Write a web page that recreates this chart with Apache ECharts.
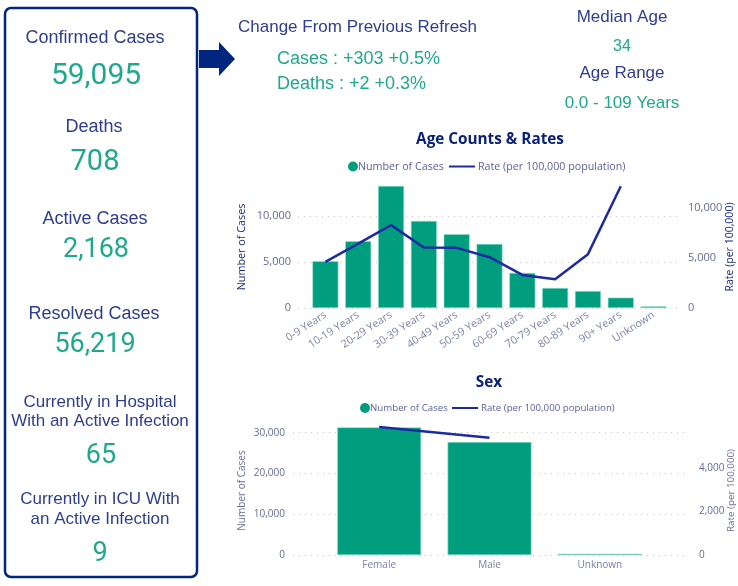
<!DOCTYPE html>
<html>
<head>
<meta charset="utf-8">
<style>html,body{margin:0;padding:0;background:#fff}</style>
<script src="https://cdn.jsdelivr.net/npm/echarts@6/dist/echarts.min.js"></script>
</head>
<body>
<div id="main" style="width:738px;height:586px"></div>
<script type="text/javascript">
var ageCategories = ['0-9 Years','10-19 Years','20-29 Years','30-39 Years','40-49 Years','50-59 Years','60-69 Years','70-79 Years','80-89 Years','90+ Years','Unknown'];
var ageCases = [5090,7270,13300,9490,8040,6980,3820,2180,1850,1130,180];
var ageRates = [4600,6430,8270,6030,6000,5070,3300,2870,5370,12150,null];
var sexCategories = ['Female','Male','Unknown'];
var sexCases = [31300,27700,300];
var sexRates = [5860,5370,null];

var casesName = 'Number of Cases';
var rateName = 'Rate (per 100,000 population)';

var navy = '#002680';
var labelBlue = '#2f3d8f';
var green = '#1fa98c';
var barGreen = '#009e7f';
var lineBlue = '#1e2ba0';
var tickGrey = '#646c92';
var catGrey = '#7a80a6';

var myChart = echarts.init(document.getElementById('main'));

function txt(text, x, y, size, color, align) {
	return {
		type: 'text',
		style: {
			text: text, x: x, y: y,
			fill: color,
			font: size + 'px "Liberation Sans"',
			textAlign: align || 'center',
			textVerticalAlign: 'middle'
		}
	};
}
function num(text, x, y, size) {
	return {
		type: 'text',
		style: {
			text: text, x: x, y: y,
			fill: green,
			font: size + 'px Roboto',
			textAlign: 'center',
			textVerticalAlign: 'middle'
		}
	};
}

// hidden x axis for the wider plot box that holds the gridlines
function boxX(g) {
	return {type: 'value', gridIndex: g, min: 0, max: 1, show: false};
}
function catX(g, data, size, rotate, margin) {
	return {
		type: 'category', gridIndex: g, data: data,
		axisLine: {show: false}, axisTick: {show: false},
		axisLabel: {interval: 0, rotate: rotate, margin: margin, color: catGrey, fontSize: size, fontFamily: 'Open Sans'}
	};
}
function boxY(g, pos, max, step, name, nameColor, nameSize, gap, size, margin, dots) {
	return {
		type: 'value', gridIndex: g, position: pos, min: 0, max: max, interval: step,
		name: name, nameLocation: 'middle', nameGap: gap, nameMoveOverlap: false,
		nameTextStyle: {color: nameColor, fontSize: nameSize, fontFamily: 'Open Sans'},
		axisLine: {show: false}, axisTick: {show: false},
		axisLabel: {margin: margin, color: tickGrey, fontSize: size, fontFamily: 'Open Sans', showMaxLabel: false,
			formatter: function (v) { return v.toLocaleString('en-US'); }},
		splitLine: {show: dots, showMaxLine: false, lineStyle: {type: [1, 5], color: '#c8c8c8', width: 1}}
	};
}
function hiddenY(g, pos, max) {
	return {type: 'value', gridIndex: g, position: pos, min: 0, max: max, show: false, splitLine: {show: false}};
}
function barSeries(x, y, data, ratio) {
	return {
		name: casesName, type: 'bar', xAxisIndex: x, yAxisIndex: y, data: data,
		barWidth: ratio,
		itemStyle: {color: barGreen, borderColor: '#8fdcc8', borderWidth: 0.6}
	};
}
function lineSeries(x, y, data) {
	return {
		name: rateName, type: 'line', xAxisIndex: x, yAxisIndex: y, data: data,
		symbol: 'none', z: 5,
		lineStyle: {color: lineBlue, width: 2.5},
		itemStyle: {color: lineBlue}
	};
}
function legendItem(name, left, top, size, icon, w, h, gap) {
	return {
		data: [{name: name, icon: icon}], left: left, top: top, padding: 0,
		itemWidth: w, itemHeight: h, itemGap: 0,
		itemStyle: {borderWidth: 0},
		textStyle: {color: '#5c629c', fontSize: size, fontFamily: 'Open Sans', padding: [0, 0, 0, gap]}
	};
}

var option = {
	animation: false,
	backgroundColor: '#fff',
	title: [
		{text: 'Age Counts & Rates', left: 490, top: 132, textAlign: 'center', padding: 0,
			textStyle: {color: '#0a2178', fontSize: 15.3, fontWeight: 'bold', fontFamily: 'Open Sans'}},
		{text: 'Sex', left: 489, top: 375, textAlign: 'center', padding: 0,
			textStyle: {color: '#0a2178', fontSize: 15.3, fontWeight: 'bold', fontFamily: 'Open Sans'}}
	],
	legend: [
		legendItem(casesName, 348, 161, 10.7, 'circle', 10, 10, -5),
		legendItem(rateName, 449, 161, 10.7, 'rect', 26, 2, -2),
		legendItem(casesName, 360, 403, 9.7, 'circle', 10, 10, -5),
		legendItem(rateName, 452, 403, 9.7, 'rect', 26, 2, -2)
	],
	grid: [
		{left: 298, right: 58, top: 186, height: 122, outerBoundsMode: 'none'},
		{left: 309, right: 68, top: 186, height: 122, outerBoundsMode: 'none'},
		{left: 293, right: 50, top: 426, height: 129, outerBoundsMode: 'none'},
		{left: 324, right: 83, top: 426, height: 129, outerBoundsMode: 'none'}
	],
	xAxis: [
		boxX(0),
		catX(1, ageCategories, 10.7, 33, 6),
		boxX(2),
		catX(3, sexCategories, 10, 0, 5)
	],
	yAxis: [
		boxY(0, 'left', 13300, 5000, 'Number of Cases', '#1a2a7c', 10.8, 51, 11, 7, true),
		boxY(0, 'right', 12170, 5000, 'Rate (per 100,000)', '#1a2a7c', 10.5, 45, 11, 8, false),
		hiddenY(1, 'left', 13300),
		hiddenY(1, 'right', 12170),
		boxY(2, 'left', 31640, 10000, 'Number of Cases', '#6a7096', 10, 46, 10, 8, true),
		boxY(2, 'right', 5908, 2000, 'Rate (per 100,000)', '#6a7096', 9.8, 38, 10, 11, false),
		hiddenY(3, 'left', 31640),
		hiddenY(3, 'right', 5908)
	],
	series: [
		barSeries(1, 2, ageCases, '79%'),
		lineSeries(1, 3, ageRates),
		barSeries(3, 6, sexCases, '76%'),
		lineSeries(3, 7, sexRates)
	],
	graphic: [
		{type: 'rect', shape: {x: 5, y: 8, width: 192, height: 569, r: 6},
			style: {fill: 'none', stroke: navy, lineWidth: 2.5}},
		{type: 'polygon', shape: {points: [[199,50],[219,50],[219,42],[235,59],[219,76],[219,68],[199,68]]},
			style: {fill: navy}},
		txt('Confirmed Cases', 95, 38, 18, labelBlue),
		num('59,095', 96, 76, 30),
		txt('Deaths', 94, 127, 18, labelBlue),
		num('708', 95, 163, 29),
		txt('Active Cases', 95, 219, 18, labelBlue),
		num('2,168', 96, 250, 27),
		txt('Resolved Cases', 94, 314, 18, labelBlue),
		num('56,219', 95, 345, 27),
		txt('Currently in Hospital', 100, 402, 17, labelBlue),
		txt('With an Active Infection', 100, 421, 17, labelBlue),
		num('65', 101, 456, 27),
		txt('Currently in ICU With', 100, 499, 17, labelBlue),
		txt('an Active Infection', 100, 519, 17, labelBlue),
		num('9', 100, 554, 27),
		txt('Change From Previous Refresh', 238, 27, 17, labelBlue, 'left'),
		txt('Cases : +303 +0.5%', 277, 59, 18, green, 'left'),
		txt('Deaths : +2 +0.3%', 277, 84, 18, green, 'left'),
		txt('Median Age', 622, 17, 17, labelBlue),
		txt('34', 622, 47, 16, green),
		txt('Age Range', 622, 73, 17, labelBlue),
		txt('0.0 - 109 Years', 622, 103, 17, green)
	]
};
myChart.setOption(option);
</script>
</body>
</html>
